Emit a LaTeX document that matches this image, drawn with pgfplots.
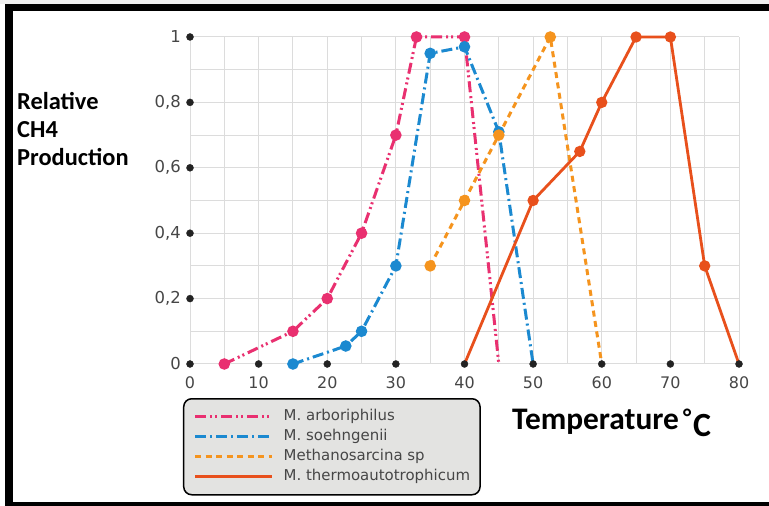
\documentclass[border=0pt]{standalone}
\usepackage{fontspec}
\usepackage{pgfplots}
\pgfplotsset{compat=1.18}
\newfontfamily\dejavu{DejaVu Sans}
\newfontfamily\carlito{Carlito}
\definecolor{cpink}{RGB}{233,48,112}
\definecolor{cblue}{RGB}{27,137,208}
\definecolor{corange}{RGB}{245,148,30}
\definecolor{cred}{RGB}{232,80,28}
\definecolor{ctick}{RGB}{70,70,70}
\definecolor{cgrid}{RGB}{220,220,220}
\definecolor{clegend}{RGB}{227,227,225}
\definecolor{cdot}{RGB}{35,35,35}
\begin{document}
\begin{tikzpicture}[x=1bp,y=1bp]
\useasboundingbox (0,0) rectangle (769,506);
\fill[white] (0,0) rectangle (769,506);
\fill[gray!12] (0,502) rectangle (769,506);
\begin{axis}[
  at={(190bp,142bp)}, anchor=south west,
  width=549bp, height=327bp, scale only axis,
  xmin=0, xmax=80, ymin=0, ymax=1,
  clip=false,
  xtick={0,10,20,30,40,50,60,70,80},
  xticklabels={0,10,20,30,40,50,60,70,80},
  minor xtick={5,15,25,35,45,55,65,75},
  ytick={0,0.2,0.4,0.6,0.8,1},
  yticklabels={0,{0,2},{0,4},{0,6},{0,8},1},
  minor ytick={0.1,0.3,0.5,0.7,0.9},
  grid=both,
  major grid style={draw=cgrid, line width=1bp},
  minor grid style={draw=cgrid, line width=1bp},
  axis line style={draw=none},
  major tick length=0pt, minor tick length=0pt,
  xticklabel style={font=\dejavu\fontsize{16}{16}\selectfont, text=ctick, inner sep=0pt, anchor=north, yshift=-12bp},
  yticklabel style={font=\dejavu\fontsize{16.5}{16.5}\selectfont, text=ctick, inner sep=0pt, anchor=east, xshift=-9bp},
  legend image code/.code={\draw[#1] (0bp,0bp) -- (77bp,0bp);},
  legend cell align=left,
  legend style={at={(axis description cs:-0.0128,-0.104)}, anchor=north west,
    fill=clegend, draw=black, line width=1.5bp, rounded corners=8bp,
    inner xsep=10bp, inner ysep=10bp, row sep=4bp, column sep=10bp,
    font=\dejavu\fontsize{15}{15}\selectfont, text=ctick,
    nodes={inner sep=0pt, text height=12bp, text depth=4bp}},
]
\addplot[cpink, line width=3bp, dash pattern=on 11bp off 4bp on 2bp off 3bp on 2bp off 4bp,
  mark=*, mark size=4.2bp, mark options={solid, fill=cpink, draw=cpink}, mark indices={1,2,3,4,5,6,7}]
  coordinates {(5,0)(15,0.1)(20,0.2)(25,0.4)(30,0.7)(33,1)(40,1)(45,0)};
\addlegendentry{M. arboriphilus}
\addplot[cblue, line width=3bp, dash pattern=on 11bp off 4bp on 2bp off 4bp,
  mark=*, mark size=4.2bp, mark options={solid, fill=cblue, draw=cblue}, mark indices={1,2,3,4,5,6,7}]
  coordinates {(15,0)(22.7,0.055)(25,0.1)(30,0.3)(35,0.95)(40,0.97)(45,0.71)(50,0)};
\addlegendentry{M. soehngenii}
\addplot[corange, line width=3bp, dash pattern=on 6bp off 4.5bp,
  mark=*, mark size=4.2bp, mark options={solid, fill=corange, draw=corange}, mark indices={1,2,3,4}]
  coordinates {(35,0.3)(40,0.5)(45,0.7)(52.5,1)(60,0)};
\addlegendentry{Methanosarcina sp}
\addplot[cred, line width=2.8bp,
  mark=*, mark size=4.2bp, mark options={solid, fill=cred, draw=cred}, mark indices={2,3,4,5,6,7}]
  coordinates {(40,0)(50,0.5)(56.8,0.65)(60,0.8)(65,1)(70,1)(75,0.3)(80,0)};
\addlegendentry{M. thermoautotrophicum}
\addplot[only marks, mark=*, mark size=3.5bp, cdot, forget plot]
  coordinates {(0,0)(10,0)(20,0)(30,0)(40,0)(50,0)(60,0)(70,0)(80,0)(0,0.2)(0,0.4)(0,0.6)(0,0.8)(0,1)};
\end{axis}
\node[anchor=base west, inner sep=0pt, font=\carlito\bfseries\fontsize{24.5}{24.5}\selectfont] at (17,396) {Relative};
\node[anchor=base west, inner sep=0pt, font=\carlito\bfseries\fontsize{24.5}{24.5}\selectfont] at (17,368) {CH4};
\node[anchor=base west, inner sep=0pt, font=\carlito\bfseries\fontsize{24.5}{24.5}\selectfont] at (17,340) {Production};
\node[anchor=base west, inner sep=0pt, font=\carlito\bfseries\fontsize{31.5}{31.5}\selectfont] at (512,76) {Temperature};
\node[anchor=base west, inner sep=0pt, font=\carlito\bfseries\fontsize{24}{24}\selectfont] at (683,80) {°};
\node[anchor=base west, inner sep=0pt, font=\carlito\bfseries\fontsize{34}{34}\selectfont] at (693,69) {C};
\fill[black] (5,0) rectangle (12.6,502);
\fill[black] (5,495) rectangle (769,502);
\fill[black] (5,0) rectangle (769,4);
\end{tikzpicture}
\end{document}
